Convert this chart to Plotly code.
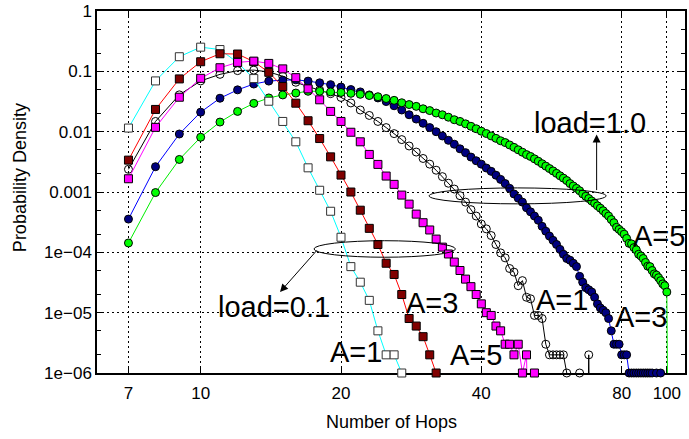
import numpy as np
import plotly.graph_objects as go

# ---------------------------------------------------------------------------
# Hop-count distributions (fraction of packets per hop count, 1e6 samples).
# A value of 0 means no packet in that bin.
# ---------------------------------------------------------------------------

# load = 1.0
hops_l10_a1 = list(range(7, 70))
pdf_l10_a1 = [
    0.00238, 0.0148, 0.0408, 0.0695, 0.0893, 0.103, 0.105, 0.098, 0.083, 0.066,
    0.056, 0.049, 0.0427, 0.037, 0.030, 0.0229, 0.0186, 0.0148, 0.0117, 0.0093,
    0.0074, 0.0058, 0.0046, 0.0036, 0.0029, 0.0023, 0.0018, 0.0014, 0.00112, 8.7e-4,
    6.8e-4, 5.1e-4, 4.0e-4, 2.95e-4, 2.45e-4, 1.9e-4, 1.35e-4, 9.8e-5, 8.1e-5, 5.4e-5,
    4.7e-5, 2.8e-5, 3.4e-5, 1.8e-5, 1.7e-5, 9e-6, 9e-6, 8e-6, 3e-6, 2e-6,
    2e-6, 2e-6, 2e-6, 2e-6, 1e-6, 0, 0, 0, 1e-6, 0,
    0, 2e-6, 0,
]

hops_l10_a3 = list(range(7, 98))
pdf_l10_a3 = [
    3.56e-4, 0.00263, 0.00916, 0.0211, 0.0359, 0.0494, 0.0617, 0.069, 0.0716, 0.0724,
    0.069, 0.0646, 0.0603, 0.055, 0.050, 0.0457, 0.0407, 0.0363, 0.0316, 0.0269,
    0.0229, 0.0191, 0.0162, 0.0138, 0.0117, 0.0100, 0.0085, 0.0072, 0.0062, 0.0052,
    0.0045, 0.0038, 0.0033, 0.0029, 0.0025, 0.0022, 0.0019, 0.00162, 0.00138, 0.00115,
    9.3e-4, 7.9e-4, 6.8e-4, 5.5e-4, 4.7e-4, 4.0e-4, 3.4e-4, 2.7e-4, 2.24e-4, 1.86e-4,
    1.58e-4, 1.35e-4, 1.12e-4, 9.3e-5, 7.9e-5, 7.4e-5, 6.6e-5, 5.8e-5, 4.0e-5, 3.2e-5,
    2.6e-5, 2.4e-5, 2.2e-5, 1.8e-5, 1.4e-5, 1.2e-5, 1.1e-5, 1.0e-5, 8e-6, 5e-6,
    3e-6, 3e-6, 3e-6, 2e-6, 2e-6, 2e-6, 1e-6, 1e-6, 1e-6, 1e-6,
    1e-6, 1e-6, 1e-6, 1e-6, 1e-6, 1e-6, 1e-6, 0, 1e-6, 0,
    1e-6,
]

hops_l10_a5 = list(range(7, 102))
pdf_l10_a5 = [
    1.43e-4, 9.8e-4, 0.00347, 0.00809, 0.01445, 0.0217, 0.0295, 0.0363, 0.0407, 0.0437,
    0.0468, 0.0468, 0.0457, 0.0447, 0.0432, 0.0417, 0.0398, 0.0380, 0.0355, 0.0331,
    0.0302, 0.0282, 0.0263, 0.0240, 0.0224, 0.0204, 0.0191, 0.0174, 0.0158, 0.0148,
    0.0135, 0.0123, 0.0112, 0.0102, 0.00933, 0.00851, 0.00776, 0.00708, 0.00661, 0.00603,
    0.00550, 0.00501, 0.00457, 0.00417, 0.00389, 0.00355, 0.00324, 0.00295, 0.00269, 0.00245,
    0.00224, 0.00204, 0.00186, 0.00170, 0.00155, 0.00138, 0.00126, 0.00115, 0.00105, 9.3e-4,
    8.5e-4, 7.8e-4, 7.1e-4, 6.5e-4, 5.9e-4, 5.4e-4, 4.9e-4, 4.4e-4, 4.0e-4, 3.5e-4,
    3.1e-4, 2.6e-4, 2.4e-4, 2.2e-4, 2.0e-4, 1.7e-4, 1.41e-4, 1.38e-4, 1.2e-4, 1.1e-4,
    9.3e-5, 8.7e-5, 7.9e-5, 6.8e-5, 5.9e-5, 5.8e-5, 5.0e-5, 4.4e-5, 4.2e-5, 3.8e-5,
    3.4e-5, 3.0e-5, 2.8e-5, 2.2e-5, 0,
]

# load = 0.1
hops_l01_a1 = list(range(7, 28))
pdf_l01_a1 = [
    0.0115, 0.0695, 0.175, 0.252, 0.230, 0.14, 0.076, 0.032, 0.0148, 0.0068,
    0.00252, 0.00107, 4.8e-4, 1.78e-4, 5.8e-5, 3.2e-5, 1.6e-5, 5e-6, 2e-6, 2e-6,
    1e-6,
]

hops_l01_a3 = list(range(7, 33))
pdf_l01_a3 = [
    0.00338, 0.0234, 0.075, 0.1445, 0.196, 0.194, 0.145, 0.0964, 0.056, 0.0297,
    0.0152, 0.0077, 0.00383, 0.00191, 0.00100, 5.0e-4, 2.5e-4, 1.35e-4, 6.6e-5, 4.3e-5,
    2.0e-5, 8e-6, 6e-6, 4e-6, 2e-6, 1e-6,
]

hops_l01_a5 = list(range(7, 53))
pdf_l01_a5 = [
    0.00166, 0.0118, 0.0373, 0.0767, 0.115, 0.141, 0.148, 0.1355, 0.110, 0.0787,
    0.0513, 0.0338, 0.0217, 0.0148, 0.0098, 0.0068, 0.0042, 0.00287, 0.00184, 0.00134,
    8.9e-4, 6.3e-4, 4.3e-4, 3.1e-4, 2.35e-4, 1.66e-4, 1.22e-4, 9.4e-5, 6.9e-5, 5.0e-5,
    3.6e-5, 2.7e-5, 2.0e-5, 1.4e-5, 1.0e-5, 9e-6, 6e-6, 5e-6, 3e-6, 3e-6,
    2e-6, 3e-6, 1e-6, 2e-6, 0, 1e-6,
]

# Axis ticks
x_tickvals = [7, 10, 20, 40, 80, 100]
x_ticktext = ["7", "10", "20", "40", "80", "100"]
y_tickvals = [1e-6, 1e-5, 1e-4, 1e-3, 1e-2, 1e-1, 1]
y_ticktext = ["1e\u221206", "1e\u221205", "1e\u221204", "0.001", "0.01", "0.1", "1"]
y_minor = [m * 10.0 ** e for e in range(-6, 0) for m in (2, 5)]

# Axis ranges (log10 units)
X_LO, X_HI = 0.7776, 2.039
Y_LO, Y_HI = -6.0, 0.001

FLOOR = 1e-9  # empty bins: the line drops off the bottom of the plot
FONT = "Liberation Sans"


def px(h):
    """Hop count -> paper x."""
    return (np.log10(h) - X_LO) / (X_HI - X_LO)


def py(p):
    """Probability -> paper y."""
    return (np.log10(p) - Y_LO) / (Y_HI - Y_LO)


series = [
    # (hops, pdf, line colour, marker symbol, fill, edge)
    (hops_l10_a1, pdf_l10_a1, "#000000", "circle-open", "#000000", "#000000"),
    (hops_l10_a3, pdf_l10_a3, "#0000ff", "circle", "#000080", "#000000"),
    (hops_l10_a5, pdf_l10_a5, "#00ee00", "circle", "#00ff00", "#000000"),
    (hops_l01_a1, pdf_l01_a1, "#00ffff", "square", "#ffffff", "#333333"),
    (hops_l01_a3, pdf_l01_a3, "#ff0000", "square", "#800000", "#000000"),
    (hops_l01_a5, pdf_l01_a5, "#ff00ff", "square", "#ff00ff", "#000000"),
]

fig = go.Figure()
for hops, pdf, lc, sym, fill, edge in series:
    p = np.asarray(pdf, dtype=float)
    present = p > 0
    fig.add_trace(go.Scatter(
        x=hops,
        y=np.where(present, p, FLOOR),
        mode="lines+markers",
        line=dict(color=lc, width=1),
        marker=dict(
            symbol=sym,
            size=np.where(present, 8, 0),
            opacity=np.where(present, 1.0, 0.0),
            color=fill,
            line=dict(color=edge, width=1),
        ),
        cliponaxis=False,
        showlegend=False,
        hoverinfo="skip",
    ))

axis_common = dict(
    type="log",
    ticks="inside",
    ticklen=6,
    tickwidth=1,
    tickcolor="black",
    showline=True,
    linecolor="black",
    linewidth=1.5,
    mirror="allticks",
    showgrid=True,
    gridcolor="black",
    gridwidth=1,
    griddash="2px,3px",
    tickfont=dict(family=FONT, size=17, color="black"),
    layer="below traces",
)

fig.update_layout(
    width=689,
    height=439,
    margin=dict(l=97, r=2, t=9, b=66),
    paper_bgcolor="white",
    plot_bgcolor="white",
    xaxis=dict(
        axis_common,
        range=[X_LO, X_HI],
        tickmode="array",
        tickvals=x_tickvals,
        ticktext=x_ticktext,
        ticklabelstandoff=4,
    ),
    yaxis=dict(
        axis_common,
        range=[Y_LO, Y_HI],
        tickmode="array",
        tickvals=y_tickvals,
        ticktext=y_ticktext,
        minor=dict(tickmode="array", tickvals=y_minor, ticks="inside",
                   ticklen=4, tickcolor="black", showgrid=False),
    ),
)

# Axis titles
fig.add_annotation(text="Number of Hops", xref="paper", yref="paper",
                   x=0.5, y=-0.135, xanchor="center", yanchor="middle",
                   showarrow=False,
                   font=dict(family=FONT, size=18, color="black"))
fig.add_annotation(text="Probability Density", xref="paper", yref="paper",
                   x=-0.131, y=0.541, xanchor="center", yanchor="middle",
                   textangle=-90, showarrow=False,
                   font=dict(family=FONT, size=18, color="black"))

# Curve labels
labels = [
    ("load=1.0", 68.4, 0.0137),
    ("load=0.1", 14.4, 1.23e-5),
    ("A=1", 21.5, 2.24e-6),
    ("A=3", 31.3, 1.45e-5),
    ("A=5", 39.0, 2.0e-6),
    ("A=1", 59.7, 1.62e-5),
    ("A=3", 88.1, 8.5e-6),
    ("A=5", 96.2, 1.9e-4),
]
for text, h, p in labels:
    fig.add_annotation(text=text, xref="paper", yref="paper",
                       x=px(h), y=py(p), showarrow=False,
                       xanchor="center", yanchor="middle",
                       font=dict(family=FONT, size=29, color="black"))

# Group ellipses
for h0, h1, p0, p1 in [(30.9, 74.1, 6.37e-4, 1.17e-3),
                       (17.5, 35.2, 8.3e-5, 1.56e-4)]:
    fig.add_shape(type="circle", xref="paper", yref="paper",
                  x0=px(h0), x1=px(h1), y0=py(p0), y1=py(p1),
                  line=dict(color="black", width=1), layer="above")

# Arrows from ellipses to the load labels
fig.add_annotation(text="", xref="paper", yref="paper",
                   x=px(70.7), y=py(0.00896), ax=0, ay=57,
                   showarrow=True, arrowhead=2, arrowsize=1.6,
                   arrowwidth=1, arrowcolor="black", standoff=0)
fig.add_annotation(text="", xref="paper", yref="paper",
                   x=px(14.8), y=py(2.2e-5), ax=38, ay=-43,
                   showarrow=True, arrowhead=2, arrowsize=1.6,
                   arrowwidth=1, arrowcolor="black", standoff=0)

fig.write_html("out.html")
